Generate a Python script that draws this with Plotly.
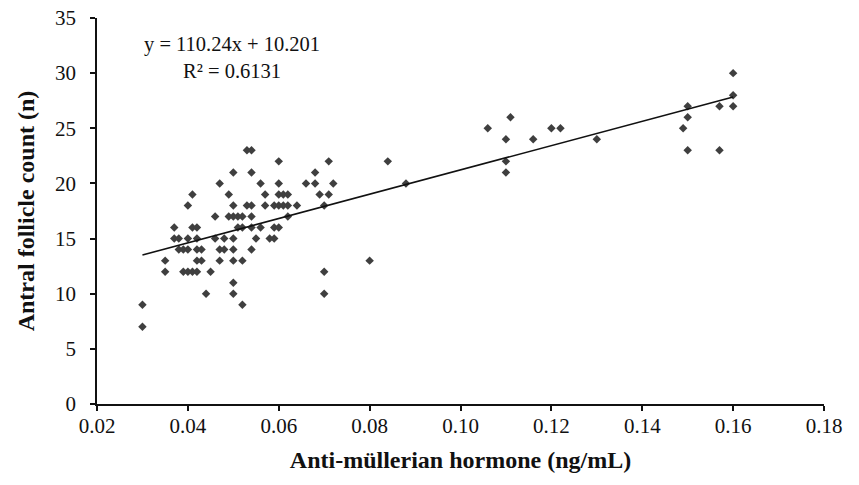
import plotly.graph_objects as go

# Data
amh = [0.030, 0.030,
       0.035, 0.035,
       0.037, 0.037,
       0.038, 0.038,
       0.039, 0.039,
       0.040, 0.040, 0.040, 0.040,
       0.041, 0.041, 0.041,
       0.042, 0.042, 0.042, 0.042, 0.042,
       0.043, 0.043,
       0.044,
       0.045,
       0.046, 0.046,
       0.047, 0.047, 0.047,
       0.048, 0.048,
       0.049, 0.049,
       0.050, 0.050, 0.050, 0.050, 0.050, 0.050, 0.050, 0.050,
       0.051, 0.051,
       0.052, 0.052, 0.052, 0.052,
       0.053, 0.053,
       0.054, 0.054, 0.054, 0.054, 0.054, 0.054,
       0.055,
       0.056, 0.056,
       0.057, 0.057,
       0.058,
       0.059, 0.059, 0.059,
       0.060, 0.060, 0.060, 0.060, 0.060,
       0.061, 0.061,
       0.062, 0.062, 0.062,
       0.064,
       0.066,
       0.068, 0.068,
       0.069,
       0.070, 0.070, 0.070,
       0.071, 0.071,
       0.072,
       0.080,
       0.084,
       0.088,
       0.106,
       0.110, 0.110, 0.110,
       0.111,
       0.116,
       0.120,
       0.122,
       0.130,
       0.149,
       0.150, 0.150, 0.150,
       0.157, 0.157,
       0.160, 0.160, 0.160]

afc = [9, 7,
       13, 12,
       16, 15,
       15, 14,
       14, 12,
       18, 15, 14, 12,
       19, 16, 12,
       16, 15, 14, 13, 12,
       14, 13,
       10,
       12,
       17, 15,
       20, 14, 13,
       15, 14,
       19, 17,
       21, 18, 17, 15, 14, 13, 11, 10,
       17, 16,
       17, 16, 13, 9,
       23, 18,
       23, 21, 18, 17, 16, 14,
       15,
       20, 16,
       19, 18,
       15,
       18, 16, 15,
       22, 20, 19, 18, 16,
       19, 18,
       19, 18, 17,
       18,
       20,
       21, 20,
       19,
       18, 12, 10,
       22, 19,
       20,
       13,
       22,
       20,
       25,
       24, 22, 21,
       26,
       24,
       25,
       25,
       24,
       25,
       27, 26, 23,
       27, 23,
       30, 28, 27]

slope = 110.24
intercept = 10.201
r_squared = 0.6131

x_ticks = [0.02, 0.04, 0.06, 0.08, 0.10, 0.12, 0.14, 0.16, 0.18]
y_ticks = [0, 5, 10, 15, 20, 25, 30, 35]

x_min, x_max = min(amh), max(amh)
trend_x = [x_min, x_max]
trend_y = [slope * v + intercept for v in trend_x]

FONT = "Liberation Serif, Times New Roman, serif"

fig = go.Figure()
fig.add_trace(go.Scatter(
    x=amh, y=afc, mode="markers",
    marker=dict(symbol="diamond", size=6.5, color="#3f3f3f", line=dict(width=0)),
    showlegend=False, hoverinfo="x+y", cliponaxis=False))
fig.add_trace(go.Scatter(
    x=trend_x, y=trend_y, mode="lines",
    line=dict(color="#111111", width=1.6),
    showlegend=False, hoverinfo="skip"))

fig.add_annotation(
    x=0.0498, y=31.4, xref="x", yref="y",
    text=f"y = {slope:.2f}x + {intercept:.3f}<br>R² = {r_squared:.4f}",
    showarrow=False, align="center", xanchor="center", yanchor="middle",
    font=dict(family=FONT, size=20.5, color="#111111"))

# the page body adds an 8px offset, so the margins compensate for it
fig.update_layout(
    width=859, height=485,
    margin=dict(l=89, r=43, t=10, b=89, autoexpand=False),
    paper_bgcolor="white", plot_bgcolor="white",
    font=dict(family=FONT, color="#111111"),
)
fig.update_xaxes(
    range=[0.02, 0.18], tickvals=x_ticks,
    ticktext=[f"{v:.2f}" for v in x_ticks],
    showline=True, linecolor="#111111", linewidth=1.6,
    ticks="outside", ticklen=5, tickwidth=1.6, tickcolor="#111111",
    ticklabelstandoff=-3, ticklabeloverflow="allow",
    showgrid=False, zeroline=False, automargin=False,
    tickfont=dict(family=FONT, size=21, color="#111111"),
    title=dict(text="<b>Anti-müllerian hormone (ng/mL)</b>",
               font=dict(family=FONT, size=24, color="#111111"), standoff=14),
)
fig.update_yaxes(
    range=[0, 35], tickvals=y_ticks,
    showline=True, linecolor="#111111", linewidth=1.6,
    ticks="outside", ticklen=5, tickwidth=1.6, tickcolor="#111111",
    ticklabelstandoff=10, ticklabeloverflow="allow",
    showgrid=False, zeroline=False, automargin=False,
    tickfont=dict(family=FONT, size=21, color="#111111"),
    title=dict(text="<b>Antral follicle count (n)</b>",
               font=dict(family=FONT, size=24, color="#111111"), standoff=14),
)

fig.write_html("out.html")
